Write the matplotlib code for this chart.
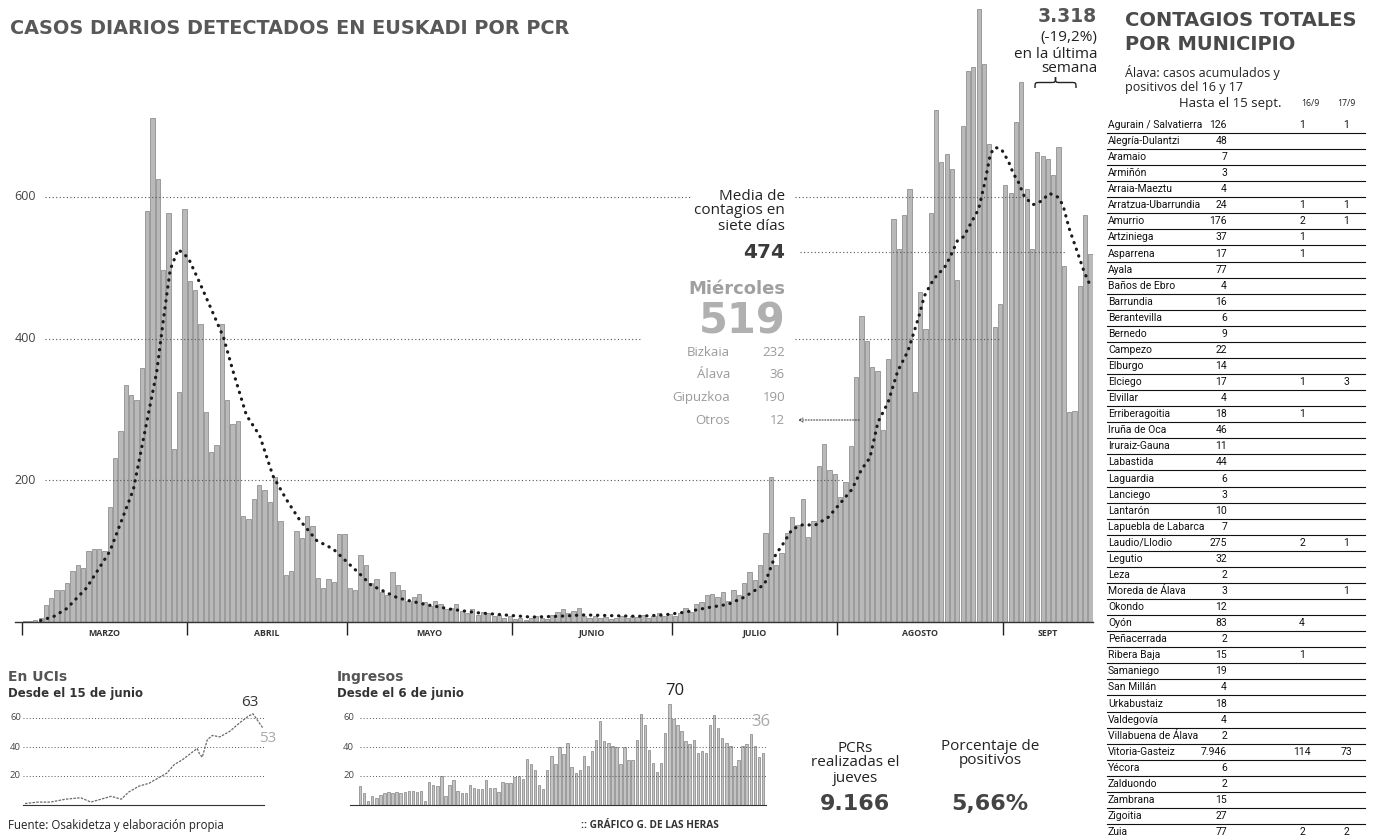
import matplotlib
matplotlib.use('Agg')
import matplotlib.pyplot as plt
from matplotlib.path import Path
from matplotlib.patches import PathPatch
import numpy as np

# ---------------- DATA ----------------
months = ["MARZO", "ABRIL", "MAYO", "JUNIO", "JULIO", "AGOSTO", "SEPT"]
cases_mar = [1, 2, 3, 5, 24, 34, 45, 45, 55, 72, 81, 76, 100, 103, 103, 100, 162, 232, 270, 334,
             320, 313, 358, 580, 711, 625, 497, 578, 244, 325, 583]
cases_apr = [482, 468, 420, 296, 240, 250, 420, 313, 279, 284, 150, 146, 174, 193, 186, 170, 205,
             143, 67, 72, 129, 119, 150, 136, 62, 48, 60, 57, 124, 124]
cases_may = [48, 45, 95, 80, 55, 60, 42, 38, 70, 52, 45, 30, 35, 40, 28, 22, 30, 25, 18, 20, 25,
             15, 12, 18, 10, 14, 12, 8, 10, 6, 8]
cases_jun = [4, 6, 3, 5, 8, 6, 4, 10, 14, 18, 12, 16, 20, 9, 6, 8, 5, 7, 4, 6, 8, 5, 9, 7, 10, 6,
             8, 12, 9, 11]
cases_jul = [8, 12, 20, 14, 25, 28, 38, 40, 35, 42, 30, 45, 38, 55, 70, 59, 81, 126, 204, 81, 98,
             126, 148, 137, 173, 120, 142, 220, 251, 215, 209]
cases_aug = [176, 198, 248, 346, 432, 396, 360, 354, 271, 371, 569, 527, 575, 611, 324, 466, 413,
             578, 723, 650, 661, 639, 483, 700, 778, 784, 865, 787, 675, 416, 449]
cases_sep = [617, 605, 706, 762, 611, 527, 664, 658, 653, 631, 670, 502, 296, 298, 474, 575, 519]
month_lengths = [31, 30, 31, 30, 31, 31, 17]

avg_day = [3, 5.5, 7.9, 11.6, 16, 20.4, 22.3, 24.8, 26, 27.3, 28.8, 30.7, 32.9, 35.4, 37.3, 39.1,
           41.6, 44.1, 46.6, 49.1, 51.6, 54.8, 57.9, 61, 63, 65, 70, 75, 80, 85, 90, 95, 100, 105,
           110, 115, 120, 124, 128, 132, 135, 138.8, 140.9, 142.2, 144, 145.9, 148.4, 150.8,
           153.3, 155.2, 157, 158.6, 160.1, 162, 163.8, 165.7, 166.9, 167.8, 168.8, 170, 171.3,
           172.5, 173.7, 175, 176.2, 177.4, 179, 180.2, 181.2, 182.1, 183.3, 184.6, 185.5, 186.4,
           187.6, 189.2, 190.7, 192.3, 193.8, 194.8, 196, 197.3, 198.8, 200]
avg_val = [2, 8, 19, 48, 100, 187, 259, 354, 425, 497, 526, 514, 478, 435, 402, 354, 292, 263, 206,
           173, 144, 115, 103, 81, 67, 52, 34, 25, 18, 13, 10, 7, 8, 10, 9, 8, 10, 14, 20, 25, 35,
           53, 95, 109, 131, 137, 137, 148, 170, 187, 215, 232, 282, 310, 354, 382, 410, 432, 460,
           477, 491, 499, 516, 538, 544, 561, 583, 622, 661, 670, 667, 650, 633, 622, 600, 589,
           594, 605, 600, 589, 555, 527, 494, 474]

region_names = ["Bizkaia", "Álava", "Gipuzkoa", "Otros"]
region_values = [232, 36, 190, 12]

uci_days = [0, 5, 10, 16, 22, 26, 30, 34, 38, 41, 45, 49, 52, 56, 59, 62, 65, 68, 69, 70, 72, 74,
            77, 81, 85, 88, 90, 92, 94]
uci_vals = [1, 2, 2, 4, 5, 2, 4, 6, 4, 9, 13, 15, 18, 22, 28, 31, 35, 39, 35, 33, 45, 48, 47, 51,
            57, 61, 63, 58, 53]

ingresos = [13, 8, 3, 6, 5, 7, 8, 9, 8, 9, 8, 9, 10, 10, 9, 10, 3, 16, 14, 13, 20, 6, 14, 17, 10,
            8, 8, 14, 12, 11, 11, 17, 12, 12, 9, 16, 15, 15, 19, 20, 18, 32, 28, 24, 14, 11, 24,
            34, 28, 40, 35, 43, 26, 22, 24, 34, 27, 37, 45, 58, 44, 43, 41, 40, 28, 40, 31, 31,
            45, 63, 55, 38, 29, 23, 29, 50, 70, 59, 55, 51, 44, 42, 45, 36, 37, 36, 55, 62, 53,
            46, 43, 41, 27, 31, 41, 42, 49, 41, 33, 36]

municipios = ["Agurain / Salvatierra", "Alegría-Dulantzi", "Aramaio", "Armiñón", "Arraia-Maeztu",
              "Arratzua-Ubarrundia", "Amurrio", "Artziniega", "Asparrena", "Ayala",
              "Baños de Ebro", "Barrundia", "Berantevilla", "Bernedo", "Campezo", "Elburgo",
              "Elciego", "Elvillar", "Erriberagoitia", "Iruña de Oca", "Iruraiz-Gauna",
              "Labastida", "Laguardia", "Lanciego", "Lantarón", "Lapuebla de Labarca",
              "Laudio/Llodio", "Legutio", "Leza", "Moreda de Álava", "Okondo", "Oyón",
              "Peñacerrada", "Ribera Baja", "Samaniego", "San Millán", "Urkabustaiz",
              "Valdegovía", "Villabuena de Álava", "Vitoria-Gasteiz", "Yécora", "Zalduondo",
              "Zambrana", "Zigoitia", "Zuia"]
acumulados = [126, 48, 7, 3, 4, 24, 176, 37, 17, 77, 4, 16, 6, 9, 22, 14, 17, 4, 18, 46, 11, 44,
              6, 3, 10, 7, 275, 32, 2, 3, 12, 83, 2, 15, 19, 4, 18, 4, 2, 7946, 6, 2, 15, 27, 77]
pos_16 = [1, None, None, None, None, 1, 2, 1, 1, None, None, None, None, None, None, None, 1,
          None, 1, None, None, None, None, None, None, None, 2, None, None, None, None, 4, None,
          1, None, None, None, None, None, 114, None, None, None, None, 2]
pos_17 = [1, None, None, None, None, 1, 1, None, None, None, None, None, None, None, None, None,
          3, None, None, None, None, None, None, None, None, None, 1, None, None, 1, None, None,
          None, None, None, None, None, None, None, 73, None, None, None, None, 2]

# ---------------- FIGURE ----------------
plt.rcParams['font.family'] = ['Open Sans', 'DejaVu Sans']
W, H = 1384, 836
fig = plt.figure(figsize=(W / 100, H / 100), dpi=100)
fig.patch.set_facecolor('white')


def fx(px):
    return px / W


def fy(py):
    return 1 - py / H


def ftext(x, y, s, **kw):
    kw.setdefault('va', 'center')
    return fig.text(fx(x), fy(y), s, **kw)


def axes_px(x0, x1, ytop, ybot):
    return fig.add_axes([fx(x0), fy(ybot), (x1 - x0) / W, (ybot - ytop) / H])


TITLE_FONT = ['DejaVu Sans']
TABLE_FONT = ['Roboto', 'DejaVu Sans']

# ---------------- MAIN CHART ----------------
cases = cases_mar + cases_apr + cases_may + cases_jun + cases_jul + cases_aug + cases_sep
days = np.arange(len(cases))
ax = axes_px(15, 1093, 0, 622)
ax.set_facecolor('none')
ax.bar(days, cases, width=0.8, color='#b9b9b9', edgecolor='#6a6a6a', linewidth=0.4, zorder=2)
ax.plot(avg_day, avg_val, color='#1a1a1a', lw=2.3, linestyle=(0, (0.1, 2.1)),
        dash_capstyle='round', zorder=4)
ax.set_xlim(-1.81, 200.45)
ax.set_ylim(0, 878)


def axfrac(px):
    return (px - 15) / (1093 - 15)


grid_kw = dict(color='#555555', lw=0.8, linestyle=(0, (1, 2.2)), zorder=3)
ax.axhline(600, axfrac(45), axfrac(690), **grid_kw)
ax.axhline(600, axfrac(795), axfrac(1027), **grid_kw)
ax.axhline(400, axfrac(45), axfrac(640), **grid_kw)
ax.axhline(400, axfrac(795), axfrac(1000), **grid_kw)
ax.axhline(200, axfrac(45), axfrac(845), **grid_kw)
ax.axhline(522, axfrac(800), axfrac(1066), **grid_kw)

for s in ['top', 'right', 'left']:
    ax.spines[s].set_visible(False)
ax.spines['bottom'].set_color('#333333')
ax.spines['bottom'].set_linewidth(1.0)
starts = np.cumsum([0] + month_lengths[:-1])
ax.set_xticks(starts - 0.5)
ax.set_xticklabels([])
ax.tick_params(axis='x', length=9, width=1.0, color='#222222', direction='out')
ax.set_yticks([])
for st, ln, name in zip(starts, month_lengths, months):
    mid = st + ln / 2 - 0.5
    if name == "SEPT":
        mid = st + 8
    ax.text(mid, -11 / 622, name, transform=ax.get_xaxis_transform(), ha='center', va='center',
            fontsize=6.3, fontweight='bold', color='#333333')

for v, py in [(600, 197), (400, 339), (200, 480)]:
    ftext(36, py, str(v), ha='right', fontsize=9, color='#444444')

ftext(10, 28, "CASOS DIARIOS DETECTADOS EN EUSKADI POR PCR", ha='left', fontsize=13.9,
      fontweight='bold', color='#585858', family=TITLE_FONT)

# middle annotation
ftext(785, 196, "Media de", ha='right', fontsize=11, color='#222222')
ftext(785, 211, "contagios en", ha='right', fontsize=11, color='#222222')
ftext(785, 226, "siete días", ha='right', fontsize=11, color='#222222')
ftext(785, 252, "474", ha='right', fontsize=14.5, fontweight='bold', color='#3a3a3a',
      family=TITLE_FONT)
ftext(785, 289, "Miércoles", ha='right', fontsize=13, fontweight='bold', color='#a0a0a0',
      family=TITLE_FONT)
ftext(786, 321, "519", ha='right', fontsize=30, fontweight='bold', color='#b0b0b0',
      family=TITLE_FONT)
for k, (nm, val) in enumerate(zip(region_names, region_values)):
    py = 352 + k * 22.7
    ftext(730, py, nm, ha='right', fontsize=9.5, color='#9a9a9a')
    ftext(785, py, str(val), ha='right', fontsize=9.5, color='#9a9a9a')
fig.add_artist(matplotlib.patches.FancyArrowPatch(
    (fx(862), fy(420)), (fx(795), fy(420)), transform=fig.transFigure,
    arrowstyle='->', mutation_scale=7, linestyle=(0, (1, 1.5)), color='#444444', lw=0.8))

# weekly total
ftext(1097, 16, "3.318", ha='right', fontsize=13.5, fontweight='bold', color='#555555',
      family=TITLE_FONT)
ftext(1097, 38, "(-19,2%)", ha='right', fontsize=11, color='#222222')
ftext(1097, 54, "en la última", ha='right', fontsize=11, color='#222222')
ftext(1097, 69, "semana", ha='right', fontsize=11, color='#222222')


def brace(x0, x1, yb, yt):
    xm = (x0 + x1) / 2
    ym = (yb + yt) / 2
    r = (x1 - x0) * 0.12
    pts = [(x0, yb), (x0, ym), (x0, ym), (x0 + r, ym),
           (xm - r, ym), (xm, ym), (xm, ym), (xm, yt),
           (xm, ym), (xm, ym), (xm + r, ym),
           (x1 - r, ym), (x1, ym), (x1, ym), (x1, yb)]
    codes = [Path.MOVETO, Path.CURVE4, Path.CURVE4, Path.CURVE4,
             Path.LINETO, Path.CURVE4, Path.CURVE4, Path.CURVE4,
             Path.CURVE4, Path.CURVE4, Path.CURVE4,
             Path.LINETO, Path.CURVE4, Path.CURVE4, Path.CURVE4]
    verts = [(fx(a), fy(b)) for a, b in pts]
    fig.add_artist(PathPatch(Path(verts, codes), transform=fig.transFigure, fill=False,
                             lw=1.0, color='#222222'))


brace(1035, 1076, 88, 77)

# ---------------- TABLE ----------------
ftext(1125, 20, "CONTAGIOS TOTALES", ha='left', fontsize=14, fontweight='bold',
      color='#4a4a4a', family=TITLE_FONT)
ftext(1125, 45, "POR MUNICIPIO", ha='left', fontsize=14, fontweight='bold',
      color='#4a4a4a', family=TITLE_FONT)
ftext(1125, 72, "Álava: casos acumulados y", ha='left', fontsize=9, color='#222222')
ftext(1125, 87, "positivos del 16 y 17", ha='left', fontsize=9, color='#222222')
ftext(1230, 103, "Hasta el 15 sept.", ha='center', fontsize=9.5, color='#222222')
ftext(1310, 104, "16/9", ha='center', fontsize=6.3, color='#222222')
ftext(1346, 104, "17/9", ha='center', fontsize=6.3, color='#222222')

row0, pitch = 125, 16.07
TFS = 7.5
for k, name in enumerate(municipios):
    py = row0 + k * pitch
    ftext(1108, py, name, ha='left', fontsize=TFS, color='#111111', family=TABLE_FONT)
    ftext(1227, py, f"{acumulados[k]:,}".replace(",", "."), ha='right', fontsize=TFS,
          color='#111111', family=TABLE_FONT)
    if pos_16[k] is not None:
        ftext(1302, py, str(pos_16[k]), ha='center', fontsize=TFS, color='#111111',
              family=TABLE_FONT)
    if pos_17[k] is not None:
        ftext(1346, py, str(pos_17[k]), ha='center', fontsize=TFS, color='#111111',
              family=TABLE_FONT)
    if k < len(municipios) - 1:
        yl = fy(py + 8)
        fig.add_artist(matplotlib.lines.Line2D([fx(1107), fx(1365)], [yl, yl],
                                               transform=fig.transFigure, color='#111111',
                                               lw=0.8))

# ---------------- BOTTOM: UCIs ----------------
ftext(8, 677, "En UCIs", ha='left', fontsize=10, fontweight='bold', color='#555555',
      family=TITLE_FONT)
ftext(8, 693, "Desde el 15 de junio", ha='left', fontsize=8.5, fontweight='bold',
      color='#333333', family=TITLE_FONT)
axu = axes_px(23, 264, 685, 805)
axu.plot(uci_days, uci_vals, color='#6a6a6a', lw=0.9, linestyle=(0, (2, 1)))
axu.set_xlim(-0.8, 94.4)
axu.set_ylim(0, 82.8)
for v in [20, 40, 60]:
    axu.axhline(v, color='#555555', lw=0.7, linestyle=(0, (1, 2.2)))
for s in ['top', 'right', 'left']:
    axu.spines[s].set_visible(False)
axu.spines['bottom'].set_color('#333333')
axu.set_xticks([])
axu.set_yticks([])
axu.set_facecolor('none')
for v, py in [(60, 718), (40, 747), (20, 776)]:
    ftext(21, py, str(v), ha='right', fontsize=6.8, color='#444444')
ftext(250, 702, "63", ha='center', fontsize=11, color='#333333')
ftext(268, 738, "53", ha='center', fontsize=11, color='#aaaaaa')

# ---------------- BOTTOM: Ingresos ----------------
ftext(337, 677, "Ingresos", ha='left', fontsize=10, fontweight='bold', color='#555555',
      family=TITLE_FONT)
ftext(337, 693, "Desde el 6 de junio", ha='left', fontsize=8.5, fontweight='bold',
      color='#333333', family=TITLE_FONT)
axi = axes_px(350, 766, 685, 805)
axi.bar(np.arange(len(ingresos)), ingresos, width=0.6, color='#c4c4c4', edgecolor='#6a6a6a',
        linewidth=0.4, zorder=2)
axi.set_xlim(-2.46, 99.75)
axi.set_ylim(0, 82.8)
for v in [20, 40, 60]:
    axi.axhline(v, xmin=10 / 416, xmax=1.0, color='#555555', lw=0.7,
                linestyle=(0, (1, 2.2)), zorder=3)
for s in ['top', 'right', 'left']:
    axi.spines[s].set_visible(False)
axi.spines['bottom'].set_color('#333333')
axi.set_xticks([])
axi.set_yticks([])
axi.set_facecolor('none')
for v, py in [(60, 718), (40, 747), (20, 776)]:
    ftext(354, py, str(v), ha='right', fontsize=6.8, color='#444444')
ftext(675, 691, "70", ha='center', fontsize=12, color='#222222')
ftext(761, 722, "36", ha='center', fontsize=12, color='#aaaaaa')

# ---------------- BOTTOM: PCR figures ----------------
ftext(855, 748, "PCRs", ha='center', fontsize=11, color='#222222')
ftext(855, 763, "realizadas el", ha='center', fontsize=11, color='#222222')
ftext(855, 778, "jueves", ha='center', fontsize=11, color='#222222')
ftext(855, 804, "9.166", ha='center', fontsize=16, fontweight='bold', color='#444444',
      family=TITLE_FONT)
ftext(990, 746, "Porcentaje de", ha='center', fontsize=11, color='#222222')
ftext(990, 761, "positivos", ha='center', fontsize=11, color='#222222')
ftext(990, 804, "5,66%", ha='center', fontsize=16, fontweight='bold', color='#444444',
      family=TITLE_FONT)

ftext(8, 826, "Fuente: Osakidetza y elaboración propia", ha='left', fontsize=8.3,
      color='#222222')
ftext(650, 826, ":: GRÁFICO G. DE LAS HERAS", ha='center', fontsize=7.3, fontweight='bold',
      color='#333333')

fig.savefig('out.png', dpi=100, facecolor='white')
